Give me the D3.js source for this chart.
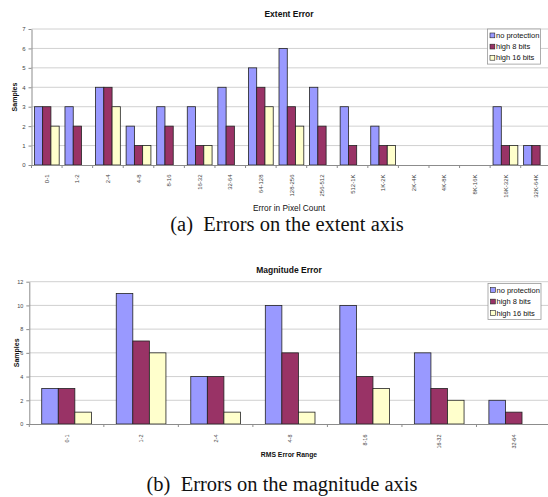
<!DOCTYPE html>
<html>
<head>
<meta charset="utf-8">
<script src="https://cdn.jsdelivr.net/npm/d3@7"></script>
<style>
  body { margin: 0; background: #fff; }
  svg { display: block; }
</style>
</head>
<body>
<div id="holder"></div>
<script>
// data
let seriesNames = ["no protection", "high 8 bits", "high 16 bits"];
let seriesColors = ["#9999ff", "#993366", "#ffffcc"];

let extentCats = ["0-1", "1-2", "2-4", "4-8", "8-16", "16-32", "32-64", "64-128", "128-256",
                  "256-512", "512-1K", "1K-2K", "2K-4K", "4K-8K", "8K-16K", "16K-32K", "32K-64K"];
let extentNoProt = [3, 3, 4, 2, 3, 3, 4, 5, 6, 4, 3, 2, 0, 0, 0, 3, 1];
let extentHigh8  = [3, 2, 4, 1, 2, 1, 2, 4, 3, 2, 1, 1, 0, 0, 0, 1, 1];
let extentHigh16 = [2, 0, 3, 1, 0, 1, 0, 3, 2, 0, 0, 1, 0, 0, 0, 1, 0];
let extentTicks = [0, 1, 2, 3, 4, 5, 6, 7];

let magCats = ["0-1", "1-2", "2-4", "4-8", "8-16", "16-32", "32-64"];
let magNoProt = [3, 11, 4, 10, 10, 6, 2];
let magHigh8  = [3, 7, 4, 6, 4, 3, 1];
let magHigh16 = [1, 6, 1, 1, 3, 2, 0];
let magTicks = [0, 2, 4, 6, 8, 10, 12];

let W = 548, H = 497;

let svg = d3.select("#holder")
  .append("svg")
    .attr("width", W)
    .attr("height", H)
    .style("font-family", "'Liberation Sans', Arial, sans-serif");

function drawChart(o) {
  let g = svg.append("g");

  let x = d3.scaleBand()
    .domain(o.cats)
    .range([o.left, o.right])
    .padding(0);
  let y = d3.scaleLinear()
    .domain([0, d3.max(o.ticks)])
    .range([o.bottom, o.top]);

  // gridlines
  g.selectAll(".grid")
    .data(o.ticks.filter(t => t > 0))
    .enter().append("line")
      .attr("x1", o.left).attr("x2", o.right)
      .attr("y1", d => y(d)).attr("y2", d => y(d))
      .attr("stroke", "#c4c4c4")
      .attr("stroke-width", 0.8);

  // y axis
  let yAxis = g.append("g")
    .attr("transform", "translate(" + o.left + ",0)")
    .call(d3.axisLeft(y).tickValues(o.ticks).tickFormat(d3.format("d"))
      .tickSize(3).tickSizeOuter(0).tickPadding(3));
  yAxis.select(".domain").attr("stroke", "#8c8c8c");
  yAxis.selectAll(".tick line").attr("stroke", "#8c8c8c");
  yAxis.selectAll("text")
    .style("font-size", o.tickFont + "px")
    .attr("fill", "#444");

  // bars
  let barW = x.bandwidth() / (3 + o.gap);
  let rows = o.cats.map((c, i) => ({cat: c, vals: o.series.map(s => s[i])}));
  let groups = g.selectAll(".grp")
    .data(rows)
    .enter().append("g")
      .attr("transform", d => "translate(" + (x(d.cat) + (x.bandwidth() - 3 * barW) / 2) + ",0)");
  groups.selectAll("rect")
    .data(d => d.vals.map((v, k) => ({v: v, k: k})))
    .enter()
    .filter(d => d.v > 0)
    .append("rect")
      .attr("x", d => d.k * barW)
      .attr("y", d => y(d.v))
      .attr("width", barW)
      .attr("height", d => y(0) - y(d.v))
      .attr("fill", d => seriesColors[d.k])
      .attr("stroke", "#222")
      .attr("stroke-width", 0.8);

  // x axis: labels centred, ticks between categories
  let xAxis = g.append("g")
    .attr("transform", "translate(0," + o.bottom + ")")
    .call(d3.axisBottom(x).tickSize(0).tickSizeOuter(0));
  xAxis.select(".domain").attr("stroke", "#8c8c8c");
  xAxis.selectAll("text")
    .attr("transform", "rotate(-90)")
    .attr("x", -o.labelOffset)
    .attr("y", 0)
    .attr("dy", "0.35em")
    .style("text-anchor", "end")
    .style("font-size", o.tickFont + "px")
    .attr("fill", "#444");
  xAxis.selectAll(".sep")
    .data(o.cats.map(c => x(c)))
    .enter().append("line")
      .attr("x1", d => d).attr("x2", d => d)
      .attr("y1", 0).attr("y2", 3)
      .attr("stroke", "#8c8c8c");

  // titles
  g.append("text")
    .attr("x", o.titleX).attr("y", o.titleY)
    .style("text-anchor", "middle")
    .style("font-size", "8.5px")
    .style("font-weight", "bold")
    .attr("fill", "#111")
    .text(o.title);
  g.append("text")
    .attr("x", o.titleX).attr("y", o.xTitleY)
    .style("text-anchor", "middle")
    .style("font-size", o.xTitleFont + "px")
    .style("font-weight", o.xTitleWeight)
    .attr("fill", "#111")
    .text(o.xTitle);
  g.append("text")
    .attr("transform", "translate(" + o.yTitleX + "," + ((o.top + o.bottom) / 2) + ") rotate(-90)")
    .style("text-anchor", "middle")
    .style("font-size", "7px")
    .style("font-weight", "bold")
    .attr("fill", "#111")
    .text("Samples");

  // legend
  let lg = g.append("g")
    .attr("transform", "translate(" + o.legX + "," + o.legY + ")");
  lg.append("rect")
    .attr("width", 53).attr("height", o.legRow * 3 + 1.5)
    .attr("fill", "#fff")
    .attr("stroke", "#999")
    .attr("stroke-width", 0.8);
  seriesNames.forEach((name, k) => {
    let cy = o.legRow * (k + 0.5) + 0.8;
    lg.append("rect")
      .attr("x", 2.5).attr("y", cy - 2.4)
      .attr("width", 4.8).attr("height", 4.8)
      .attr("fill", seriesColors[k])
      .attr("stroke", "#222")
      .attr("stroke-width", 0.6);
    lg.append("text")
      .attr("x", 8.5).attr("y", cy)
      .attr("dy", "0.35em")
      .style("font-size", "7.5px")
      .attr("fill", "#111")
      .text(name);
  });
}

drawChart({
  cats: extentCats,
  series: [extentNoProt, extentHigh8, extentHigh16],
  ticks: extentTicks,
  left: 31.5, right: 551.3, top: 29, bottom: 165,
  gap: 0.7, tickFont: 6, labelOffset: 9.5,
  title: "Extent Error", titleX: 289, titleY: 17,
  xTitle: "Error in Pixel Count", xTitleY: 211, xTitleFont: 8.3, xTitleWeight: "normal",
  yTitleX: 16.5,
  legX: 487.5, legY: 29, legRow: 11.2
});

drawChart({
  cats: magCats,
  series: [magNoProt, magHigh8, magHigh16],
  ticks: magTicks,
  left: 29.3, right: 551, top: 281.7, bottom: 424,
  gap: 1.5, tickFont: 5.5, labelOffset: 10.5,
  title: "Magnitude Error", titleX: 289, titleY: 273,
  xTitle: "RMS Error Range", xTitleY: 456.5, xTitleFont: 6.8, xTitleWeight: "bold",
  yTitleX: 18.5,
  legX: 488, legY: 283.5, legRow: 11.5
});

// figure captions
let captions = [
  {label: "(a)", text: "Errors on the extent axis", x: 287, y: 230.5},
  {label: "(b)", text: "Errors on the magnitude axis", x: 282, y: 490.5}
];
captions.forEach(c => {
  svg.append("text")
    .attr("x", c.x).attr("y", c.y)
    .style("text-anchor", "middle")
    .style("font-family", "'Liberation Serif', 'Times New Roman', serif")
    .style("font-size", "20.5px")
    .attr("fill", "#111")
    .text(c.label + "\u2002" + c.text);
});
</script>
</body>
</html>
